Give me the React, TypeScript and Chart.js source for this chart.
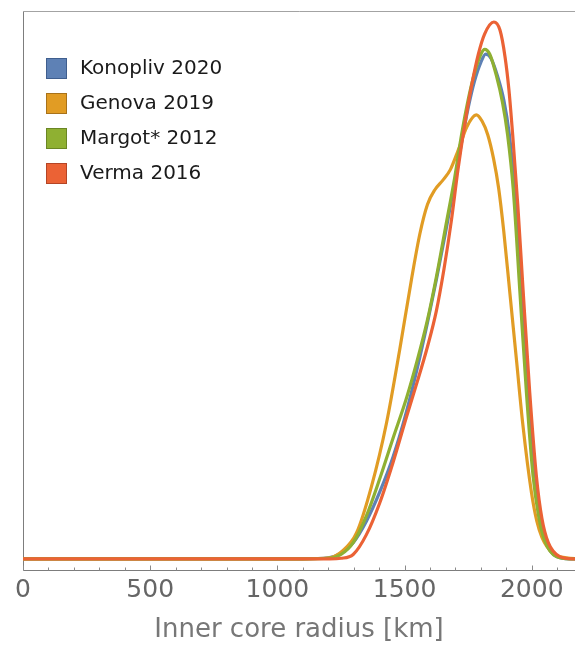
import React, { useEffect, useRef } from "react";
import { Chart, registerables } from "chart.js";

Chart.register(...registerables);

const seriesLabels = ["Konopliv 2020", "Genova 2019", "Margot* 2012", "Verma 2016"];
const seriesColors = ["#5E81B5", "#E19C24", "#8FB032", "#EB6235"];
const seriesEdges = ["#3F5E8E", "#A8721A", "#6A8624", "#B44526"];

const konoplivX = [0, 1100, 1200, 1250, 1298, 1350, 1403, 1455, 1508, 1550, 1590, 1625, 1660, 1697, 1724, 1750, 1775, 1800, 1819, 1840, 1865, 1890, 1912, 1935, 1960, 1986, 2010, 2030, 2052, 2098, 2150, 2200];
const konoplivY = [0, 0, 0.002, 0.01, 0.03, 0.07, 0.125, 0.19, 0.275, 0.355, 0.44, 0.52, 0.605, 0.7, 0.775, 0.84, 0.89, 0.925, 0.94, 0.932, 0.9, 0.855, 0.79, 0.675, 0.5, 0.31, 0.155, 0.08, 0.035, 0.004, 0, 0];

const genovaX = [0, 1100, 1206, 1257, 1311, 1370, 1429, 1481, 1527, 1560, 1590, 1620, 1650, 1680, 1710, 1745, 1782, 1805, 1827, 1850, 1870, 1890, 1914, 1940, 1965, 1999, 2020, 2040, 2083, 2136, 2200];
const genovaY = [0, 0, 0.002, 0.015, 0.048, 0.135, 0.253, 0.39, 0.52, 0.605, 0.66, 0.688, 0.705, 0.725, 0.76, 0.805, 0.827, 0.815, 0.79, 0.745, 0.69, 0.61, 0.495, 0.37, 0.25, 0.123, 0.07, 0.04, 0.01, 0.002, 0];

const margotX = [0, 1100, 1200, 1250, 1298, 1350, 1403, 1455, 1508, 1550, 1590, 1625, 1660, 1697, 1724, 1750, 1775, 1800, 1815, 1835, 1861, 1885, 1905, 1927, 1953, 1979, 2005, 2027, 2050, 2097, 2150, 2200];
const margotY = [0, 0, 0.001, 0.008, 0.03, 0.08, 0.15, 0.225, 0.3, 0.37, 0.445, 0.525, 0.615, 0.71, 0.79, 0.855, 0.905, 0.94, 0.949, 0.94, 0.9, 0.85, 0.79, 0.69, 0.5, 0.31, 0.155, 0.08, 0.035, 0.004, 0, 0];

const vermaX = [0, 1100, 1206, 1250, 1298, 1350, 1403, 1455, 1508, 1550, 1590, 1625, 1655, 1684, 1710, 1737, 1763, 1790, 1815, 1851, 1875, 1895, 1910, 1925, 1945, 1966, 1992, 2018, 2040, 2065, 2110, 2161, 2200];
const vermaY = [0, 0, 0, 0.001, 0.008, 0.045, 0.105, 0.18, 0.265, 0.33, 0.395, 0.462, 0.54, 0.63, 0.725, 0.81, 0.88, 0.94, 0.978, 1.0, 0.985, 0.935, 0.875, 0.79, 0.66, 0.5, 0.31, 0.155, 0.075, 0.03, 0.004, 0, 0];

const xTickValues = [0, 500, 1000, 1500, 2000];
const xMinorStep = 100;
const xMin = 0;
const xMax = 2170;
const yMin = -0.0205;
const yMax = 1.0205;
const xTitle = "Inner core radius [km]";

const FONT = "'DejaVu Sans', sans-serif";

const seriesX = [konoplivX, genovaX, margotX, vermaX];
const seriesY = [konoplivY, genovaY, margotY, vermaY];

const framePlugin = {
  id: "frame",
  beforeDatasetsDraw(chart: any) {
    const { ctx, chartArea, scales } = chart;
    const { left, top, right, bottom } = chartArea;
    const xs = scales.x;
    ctx.save();
    ctx.lineWidth = 1;
    const L = Math.round(left) + 0.5;
    const T = Math.round(top) + 0.5;
    const B = Math.round(bottom) + 0.5;
    ctx.strokeStyle = "#a3a3a3";
    ctx.beginPath();
    ctx.moveTo(L, T);
    ctx.lineTo(right + 2, T);
    ctx.stroke();
    ctx.strokeStyle = "#7d7d7d";
    ctx.beginPath();
    ctx.moveTo(L, T);
    ctx.lineTo(L, B);
    ctx.lineTo(right + 2, B);
    ctx.stroke();
    ctx.strokeStyle = "#8a8a8a";
    for (let v = xMin; v <= xMax; v += xMinorStep) {
      const px = Math.round(xs.getPixelForValue(v)) + 0.5;
      const len = v % 500 === 0 ? 5 : 3;
      ctx.beginPath();
      ctx.moveTo(px, B);
      ctx.lineTo(px, B - len);
      ctx.stroke();
    }
    ctx.restore();
  },
};

const legendPlugin = {
  id: "customLegend",
  afterDraw(chart: any) {
    const { ctx } = chart;
    ctx.save();
    chart.data.datasets.forEach((ds: any, i: number) => {
      const x = 46;
      const y = 58 + 35 * i;
      ctx.fillStyle = seriesColors[i];
      ctx.fillRect(x, y, 21, 21);
      ctx.strokeStyle = seriesEdges[i];
      ctx.lineWidth = 1;
      ctx.strokeRect(x + 0.5, y + 0.5, 20, 20);
      ctx.fillStyle = "#1a1a1a";
      ctx.font = `20px ${FONT}`;
      ctx.textBaseline = "middle";
      ctx.textAlign = "left";
      ctx.fillText(ds.label, 80, y + 11);
    });
    ctx.restore();
  },
};

export default function App() {
  const canvasRef = useRef<HTMLCanvasElement | null>(null);

  useEffect(() => {
    if (!canvasRef.current) return;
    const datasets = seriesLabels.map((label, i) => ({
      label,
      data: seriesX[i].map((x, j) => ({ x, y: seriesY[i][j] })),
      borderColor: seriesColors[i],
      backgroundColor: seriesColors[i],
      borderWidth: 3.2,
      pointRadius: 0,
      fill: false,
      order: seriesLabels.length - 1 - i,
      cubicInterpolationMode: "monotone" as const,
      borderCapStyle: "round" as const,
      borderJoinStyle: "round" as const,
    }));
    const chart = new Chart(canvasRef.current, {
      type: "line",
      data: { datasets },
      options: {
        animation: false,
        responsive: false,
        maintainAspectRatio: false,
        layout: { padding: { left: 23, top: 11, right: 0, bottom: 0 } },
        plugins: { legend: { display: false }, tooltip: { enabled: false } },
        scales: {
          x: {
            type: "linear",
            min: xMin,
            max: xMax,
            grid: { display: false, drawTicks: false },
            border: { display: false },
            afterBuildTicks: (axis: any) => {
              axis.ticks = xTickValues.map((v) => ({ value: v }));
            },
            ticks: {
              autoSkip: false,
              maxRotation: 0,
              font: { family: FONT, size: 25 },
              color: "#666666",
              padding: 6,
              callback: (v: any) => String(v),
            },
            title: {
              display: true,
              text: xTitle,
              font: { family: FONT, size: 26 },
              color: "#777777",
              padding: { top: 3, bottom: 0 },
            },
          },
          y: { type: "linear", display: false, min: yMin, max: yMax },
        },
      },
      plugins: [framePlugin, legendPlugin],
    });
    return () => chart.destroy();
  }, []);

  return (
    <div style={{ position: "fixed", left: 0, top: 0, width: 575, height: 646, background: "#fff" }}>
      <canvas ref={canvasRef} width={575} height={646} style={{ display: "block" }} />
    </div>
  );
}
